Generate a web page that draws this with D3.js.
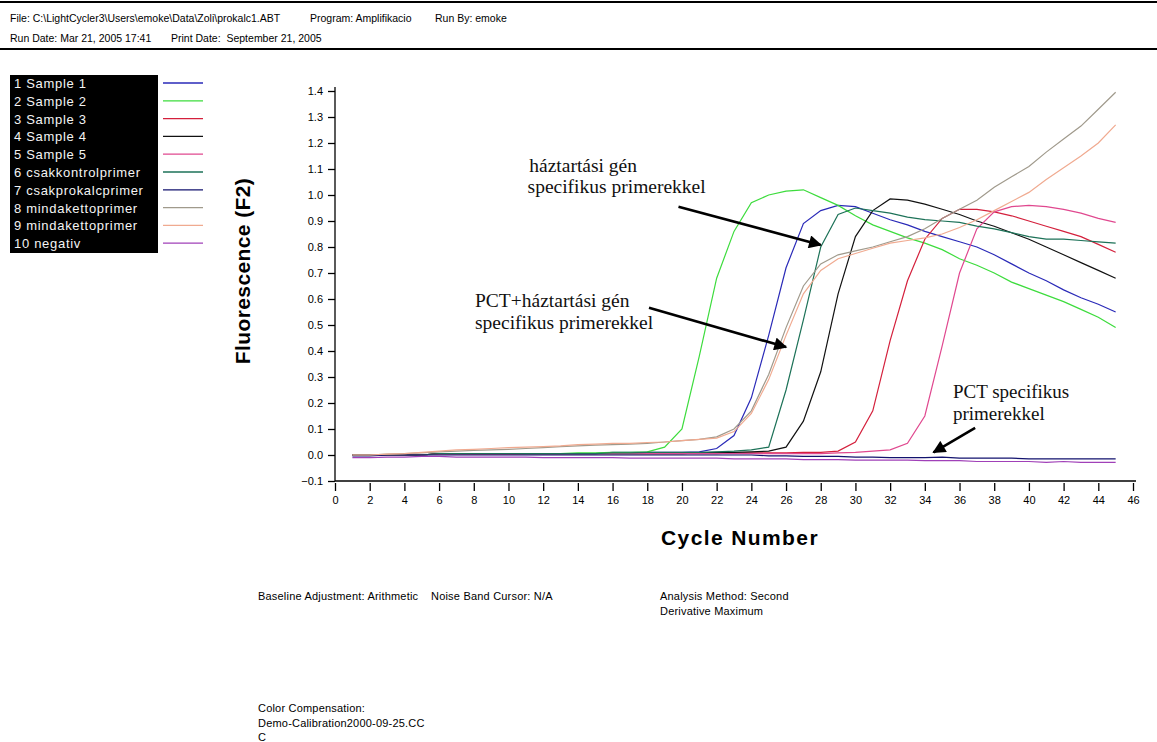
<!DOCTYPE html>
<html>
<head>
<meta charset="utf-8">
<script src="https://cdn.jsdelivr.net/npm/d3@7"></script>
<style>
  body { margin: 0; background: #fff; }
  svg { display: block; }
  .hdr { font-family: "Liberation Sans", Arial, sans-serif; font-size: 10.5px; fill: #000; }
  .foot { font-family: "Liberation Sans", Arial, sans-serif; font-size: 11px; letter-spacing: 0.2px; fill: #000; }
  .tick text { font-family: "Liberation Sans", Arial, sans-serif; font-size: 11px; }
  .note { font-family: "Liberation Serif", "Times New Roman", serif; font-size: 19.5px; fill: #111; }
</style>
</head>
<body>
<div id="chart"></div>
<script>
const W = 1157, H = 742;

// cycles 1..45
const cycles = d3.range(1, 46);

const names = ["1 Sample 1", "2 Sample 2", "3 Sample 3", "4 Sample 4", "5 Sample 5",
  "6 csakkontrolprimer", "7 csakprokalcprimer", "8 mindakettoprimer", "9 mindakettoprimer", "10 negativ"];
const colors = ["#2a2ab8", "#3ddc3d", "#d4203c", "#111111", "#e0488f",
  "#1d7258", "#12126e", "#a09a8c", "#f0aa90", "#a040b8"];

const sample1 = [0,0,0,0,0,0.005,0.005,0.005,0.005,0.005,0.005,0.005,0.005,0.005,0.005,0.01,0.01,0.01,0.01,0.01,0.012,0.025,0.075,0.22,0.46,0.72,0.89,0.94,0.96,0.955,0.93,0.905,0.885,0.86,0.84,0.82,0.8,0.77,0.735,0.7,0.67,0.635,0.605,0.58,0.55];
const sample2 = [0,0,0,0,0,0.005,0.005,0.005,0.005,0.005,0.005,0.005,0.005,0.008,0.008,0.01,0.01,0.012,0.03,0.1,0.38,0.68,0.86,0.97,1.0,1.015,1.02,0.99,0.96,0.92,0.885,0.86,0.835,0.815,0.79,0.755,0.73,0.7,0.665,0.64,0.615,0.59,0.56,0.53,0.49];
const sample3 = [0,0,0,0,0,0.005,0.005,0.003,0.003,0.003,0.005,0.005,0.005,0.005,0.005,0.005,0.005,0.005,0.005,0.005,0.005,0.005,0.008,0.008,0.008,0.008,0.01,0.01,0.015,0.05,0.17,0.44,0.67,0.83,0.91,0.945,0.945,0.935,0.92,0.9,0.88,0.86,0.84,0.81,0.78];
const sample4 = [0,0,0,0,0,0.005,0.005,0.005,0.005,0.005,0.005,0.005,0.005,0.005,0.005,0.005,0.005,0.005,0.005,0.005,0.008,0.01,0.01,0.012,0.015,0.03,0.13,0.32,0.62,0.84,0.94,0.985,0.98,0.965,0.945,0.925,0.9,0.88,0.855,0.83,0.8,0.77,0.74,0.71,0.68];
const sample5 = [0,0,0,0,0,0.003,0.003,0.003,0.003,0.003,0.005,0.005,0.005,0.005,0.005,0.005,0.005,0.005,0.005,0.005,0.005,0.005,0.005,0.005,0.005,0.005,0.005,0.005,0.008,0.01,0.015,0.02,0.045,0.15,0.42,0.7,0.87,0.935,0.955,0.96,0.955,0.945,0.93,0.91,0.895];
const csakkontrol = [0,0,0,0,0,0.005,0.005,0.005,0.005,0.005,0.005,0.005,0.005,0.005,0.005,0.008,0.008,0.01,0.01,0.01,0.01,0.012,0.015,0.02,0.03,0.25,0.52,0.8,0.925,0.95,0.94,0.93,0.915,0.905,0.9,0.895,0.88,0.87,0.855,0.84,0.83,0.83,0.825,0.82,0.815];
const csakprokalc = [-0.003,-0.003,0,0,0,0,0,0,0,0,0,0,0,0,0,0,0,0,0,0,0,0,0,0,-0.003,-0.003,-0.005,-0.005,-0.005,-0.008,-0.008,-0.01,-0.01,-0.01,-0.008,-0.012,-0.012,-0.012,-0.012,-0.015,-0.015,-0.015,-0.015,-0.015,-0.015];
const mindaketto8 = [0,0,0.003,0.005,0.008,0.012,0.015,0.018,0.02,0.022,0.025,0.028,0.032,0.035,0.038,0.04,0.042,0.045,0.05,0.055,0.06,0.07,0.1,0.17,0.31,0.49,0.65,0.735,0.77,0.785,0.8,0.82,0.84,0.87,0.91,0.945,0.98,1.03,1.07,1.11,1.165,1.215,1.265,1.33,1.395];
const mindaketto9 = [0,0,0.003,0.005,0.01,0.015,0.02,0.022,0.025,0.028,0.03,0.032,0.035,0.04,0.042,0.045,0.045,0.048,0.05,0.055,0.06,0.065,0.09,0.16,0.29,0.46,0.62,0.71,0.755,0.775,0.795,0.815,0.825,0.835,0.85,0.875,0.905,0.94,0.975,1.01,1.06,1.105,1.15,1.2,1.27];
const negativ = [-0.01,-0.01,-0.008,-0.008,-0.005,-0.005,-0.008,-0.008,-0.008,-0.008,-0.008,-0.01,-0.01,-0.01,-0.01,-0.01,-0.012,-0.012,-0.012,-0.012,-0.012,-0.012,-0.015,-0.015,-0.015,-0.015,-0.018,-0.018,-0.018,-0.02,-0.02,-0.02,-0.02,-0.022,-0.022,-0.022,-0.025,-0.025,-0.025,-0.025,-0.028,-0.025,-0.028,-0.028,-0.028];

const series = [sample1, sample2, sample3, sample4, sample5, csakkontrol, csakprokalc, mindaketto8, mindaketto9, negativ];

const xTicks = d3.range(0, 47, 2);
const yTicks = d3.range(-0.1, 1.45, 0.1);

// annotations: text lines and arrows in data units (cycle, fluorescence)
const notes = [
  { lines: ["háztartási gén", "specifikus primerekkel"], at: [[11.2, 1.088], [11.1, 1.007]], size: 19.5, from: [19.8, 0.955], to: [28.0, 0.808] },
  { lines: ["PCT+háztartási gén", "specifikus primerekkel"], at: [[8.07, 0.569], [8.07, 0.485]], size: 19.5, from: [18.1, 0.566], to: [26.0, 0.415] },
  { lines: ["PCT specifikus", "primerekkel"], at: [[35.62, 0.219], [35.62, 0.135]], size: 19, from: [36.9, 0.104], to: [34.5, 0.01] }
];

const headerLines = [
  [[10, "File: C:\\LightCycler3\\Users\\emoke\\Data\\Zoli\\prokalc1.ABT"], [310, "Program: Amplifikacio"], [435, "Run By: emoke"]],
  [[10, "Run Date: Mar 21, 2005 17:41"], [171, "Print Date:  September 21, 2005"]]
];

const svg = d3.select("#chart").append("svg").attr("width", W).attr("height", H);

// header
svg.append("line").attr("x1", 0).attr("x2", W).attr("y1", 2).attr("y2", 2).attr("stroke", "#000").attr("stroke-width", 2);
svg.append("line").attr("x1", 0).attr("x2", W).attr("y1", 49).attr("y2", 49).attr("stroke", "#000").attr("stroke-width", 2);
headerLines.forEach((row, i) => {
  row.forEach(d => {
    svg.append("text").attr("class", "hdr").attr("x", d[0]).attr("y", 22 + i * 20).style("white-space", "pre").text(d[1]);
  });
});

// legend
const legend = svg.append("g");
legend.append("rect").attr("x", 10).attr("y", 75).attr("width", 148).attr("height", 178).attr("fill", "#000");
names.forEach((n, i) => {
  const yy = 83 + i * 17.8;
  legend.append("text").attr("x", 14).attr("y", yy + 5)
    .attr("fill", "#f4f4f4").style("font-family", "Liberation Sans, Arial, sans-serif").style("font-size", "13px")
    .style("letter-spacing", "0.7px")
    .text(n);
  legend.append("line").attr("x1", 163).attr("x2", 203).attr("y1", yy).attr("y2", yy)
    .attr("stroke", colors[i]).attr("stroke-width", 1.3);
});

// scales
const x = d3.scaleLinear().domain([0, 46]).range([335, 1133]);
const y = d3.scaleLinear().domain([-0.1, 1.4]).range([481, 91]);

const xAxis = svg.append("g").attr("transform", "translate(0,481)")
  .call(d3.axisBottom(x).tickValues(xTicks).tickSize(8).tickPadding(7).tickFormat(d3.format("d")));
xAxis.select(".domain").attr("d", "M335,0H1136");
xAxis.selectAll(".tick line").attr("transform", "translate(0,2)");

const yAxis = svg.append("g").attr("transform", "translate(335,0)")
  .call(d3.axisLeft(y).tickValues(yTicks).tickSize(7).tickPadding(5).tickFormat(d3.format(".1f")));
yAxis.select(".domain").attr("d", "M0,87V481");
xAxis.selectAll(".domain, .tick line").attr("stroke", "#000").attr("stroke-width", 1.3);
yAxis.selectAll(".domain, .tick line").attr("stroke", "#000").attr("stroke-width", 1.3);

// axis titles
svg.append("text").attr("transform", "translate(250,271) rotate(-90)").attr("text-anchor", "middle")
  .style("font-family", "Liberation Sans, Arial, sans-serif").style("font-size", "21px").style("font-weight", "bold")
  .style("letter-spacing", "0.4px")
  .text("Fluorescence (F2)");
svg.append("text").attr("x", 740).attr("y", 545).attr("text-anchor", "middle")
  .style("font-family", "Liberation Sans, Arial, sans-serif").style("font-size", "21px").style("font-weight", "bold")
  .style("letter-spacing", "1.4px")
  .text("Cycle Number");

// curves
const line = d3.line().x((d, i) => x(cycles[i])).y(d => y(d));
series.forEach((s, i) => {
  svg.append("path").datum(s).attr("d", line)
    .attr("fill", "none").attr("stroke", colors[i]).attr("stroke-width", 1.2);
});

// annotations
const defs = svg.append("defs");
defs.append("marker").attr("id", "arr").attr("viewBox", "0 0 10 10").attr("refX", 9).attr("refY", 5)
  .attr("markerWidth", 5.5).attr("markerHeight", 5).attr("orient", "auto")
  .append("path").attr("d", "M0,0L10,5L0,10z").attr("fill", "#000");
notes.forEach(n => {
  n.lines.forEach((t, j) => {
    svg.append("text").attr("class", "note").style("font-size", n.size + "px")
      .attr("x", x(n.at[j][0])).attr("y", y(n.at[j][1])).text(t);
  });
  svg.append("line").attr("x1", x(n.from[0])).attr("y1", y(n.from[1]))
    .attr("x2", x(n.to[0])).attr("y2", y(n.to[1]))
    .attr("stroke", "#000").attr("stroke-width", 2.6).attr("marker-end", "url(#arr)");
});

// footer
const footer = [
  [258, 600, "Baseline Adjustment: Arithmetic"], [431, 600, "Noise Band Cursor: N/A"],
  [660, 600, "Analysis Method: Second"], [660, 615, "Derivative Maximum"],
  [258, 712, "Color Compensation:"], [258, 727, "Demo-Calibration2000-09-25.CC"], [258, 741, "C"]
];
footer.forEach(f => svg.append("text").attr("class", "foot").attr("x", f[0]).attr("y", f[1]).text(f[2]));
</script>
</body>
</html>
